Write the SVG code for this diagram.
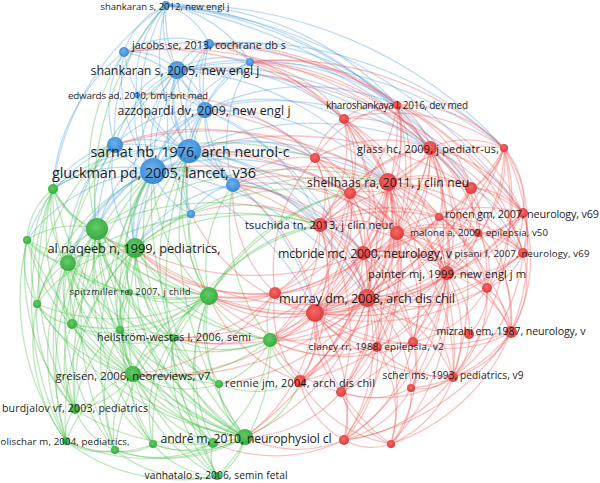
<svg xmlns="http://www.w3.org/2000/svg" width="600" height="483" viewBox="0 0 600 483">
<defs>
<radialGradient id="gb" cx="45%" cy="40%" r="60%"><stop offset="0" stop-color="#6ab2f0"/><stop offset="1" stop-color="#3a88d4"/></radialGradient>
<radialGradient id="gr" cx="45%" cy="40%" r="60%"><stop offset="0" stop-color="#f46a68"/><stop offset="1" stop-color="#de3a3a"/></radialGradient>
<radialGradient id="gg" cx="45%" cy="40%" r="60%"><stop offset="0" stop-color="#62cc62"/><stop offset="1" stop-color="#37aa42"/></radialGradient>
<style>
.e path{fill:none;stroke-width:1.3}
.eb path{stroke:#4d9de0;stroke-opacity:.36}
.er path{stroke:#ee4b4b;stroke-opacity:.34}
.eg path{stroke:#4fbf4f;stroke-opacity:.38}
.e path.w{stroke-width:2.4}
.nb{fill:url(#gb)}
.nr{fill:url(#gr)}
.ng{fill:url(#gg)}
text{font-family:"Open Sans","DejaVu Sans",sans-serif;fill:#1c1c1c;text-anchor:middle;dominant-baseline:central}
</style>
</defs>
<rect width="600" height="483" fill="#ffffff"/>
<g id="connectors">
<g class="e eb">
<path class="w" d="M153 171A50 50 0 0 1 189 151"/>
<path d="M153 171A125 125 0 0 1 177 70"/>
<path class="w" d="M153 171A96 96 0 0 1 205 110"/>
<path d="M153 171A200 200 0 0 1 166 5"/>
<path d="M153 171A167 167 0 0 1 209 44"/>
<path d="M153 171A147 147 0 0 1 124 52"/>
<path d="M153 171A97 97 0 0 1 233 185"/>
<path d="M153 171A175 175 0 0 1 250 62"/>
<path d="M153 171A93 93 0 0 1 137 95"/>
<path d="M153 171A55 55 0 0 1 115 145"/>
<path d="M115 145A89 89 0 0 1 189 151"/>
<path d="M115 145A117 117 0 0 1 177 70"/>
<path d="M115 145A116 116 0 0 1 205 110"/>
<path d="M115 145A112 112 0 0 1 124 52"/>
<path d="M115 145A179 179 0 0 1 166 5"/>
<path d="M115 145A150 150 0 0 1 233 185"/>
<path class="w" d="M189 151A98 98 0 0 1 177 70"/>
<path d="M189 151A53 53 0 0 1 205 110"/>
<path d="M189 151A177 177 0 0 1 166 5"/>
<path d="M189 151A131 131 0 0 1 209 44"/>
<path d="M189 151A129 129 0 0 1 250 62"/>
<path d="M189 151A142 142 0 0 1 124 52"/>
<path d="M189 151A67 67 0 0 1 233 185"/>
<path d="M189 151A92 92 0 0 1 137 95"/>
<path d="M191 214A69 69 0 0 1 153 171"/>
<path d="M191 214A76 76 0 0 1 189 151"/>
<path d="M191 214A126 126 0 0 1 205 110"/>
<path d="M191 214A174 174 0 0 1 177 70"/>
<path d="M191 214A61 61 0 0 1 233 185"/>
<path d="M233 185A95 95 0 0 1 205 110"/>
<path d="M233 185A156 156 0 0 1 177 70"/>
<path d="M233 185A172 172 0 0 1 209 44"/>
<path d="M233 185A149 149 0 0 1 250 62"/>
<path d="M137 95A57 57 0 0 1 177 70"/>
<path d="M137 95A84 84 0 0 1 205 110"/>
<path d="M137 95A113 113 0 0 1 166 5"/>
<path d="M124 52A67 67 0 0 1 177 70"/>
<path d="M124 52A76 76 0 0 1 166 5"/>
<path d="M124 52A102 102 0 0 1 209 44"/>
<path d="M124 52A120 120 0 0 1 205 110"/>
<path d="M177 70A79 79 0 0 1 166 5"/>
<path d="M177 70A50 50 0 0 1 209 44"/>
<path d="M177 70A88 88 0 0 1 250 62"/>
<path d="M177 70A58 58 0 0 1 205 110"/>
<path d="M205 110A134 134 0 0 1 166 5"/>
<path d="M205 110A79 79 0 0 1 209 44"/>
<path d="M205 110A79 79 0 0 1 250 62"/>
<path d="M166 5A70 70 0 0 1 209 44"/>
<path d="M209 44A54 54 0 0 1 250 62"/>
<path d="M166 5A122 122 0 0 1 250 62"/>
<path d="M97 229A97 97 0 0 1 153 171"/>
<path d="M97 229A103 103 0 0 1 115 145"/>
<path d="M97 229A145 145 0 0 1 189 151"/>
<path d="M97 229A214 214 0 0 1 177 70"/>
<path d="M97 229A193 193 0 0 1 205 110"/>
<path class="w" d="M135 248A95 95 0 0 1 153 171"/>
<path d="M135 248A133 133 0 0 1 189 151"/>
<path d="M135 248A126 126 0 0 1 115 145"/>
<path d="M135 248A219 219 0 0 1 177 70"/>
<path d="M135 248A186 186 0 0 1 205 110"/>
<path d="M135 248A140 140 0 0 1 233 185"/>
<path d="M135 248A79 79 0 0 1 191 214"/>
<path d="M53 189A122 122 0 0 1 153 171"/>
<path d="M53 189A91 91 0 0 1 115 145"/>
<path d="M53 189A185 185 0 0 1 124 52"/>
<path d="M53 189A259 259 0 0 1 166 5"/>
<path d="M53 189A169 169 0 0 1 189 151"/>
<path d="M27 240A172 172 0 0 1 153 171"/>
<path d="M27 240A155 155 0 0 1 115 145"/>
<path d="M68 263A150 150 0 0 1 153 171"/>
<path d="M68 263A198 198 0 0 1 189 151"/>
<path d="M68 263A152 152 0 0 1 115 145"/>
<path d="M189 151A242 242 0 0 1 388 182"/>
<path d="M189 151A152 152 0 0 1 315 158"/>
<path d="M189 151A181 181 0 0 1 320 225"/>
<path d="M189 151A277 277 0 0 1 367 298"/>
<path d="M189 151A242 242 0 0 1 363 253"/>
<path d="M189 151A289 289 0 0 1 430 148"/>
<path d="M189 151A246 246 0 0 1 315 313"/>
<path d="M153 171A282 282 0 0 1 388 182"/>
<path d="M153 171A211 211 0 0 1 320 225"/>
<path d="M153 171A299 299 0 0 1 367 298"/>
<path d="M153 171A259 259 0 0 1 315 313"/>
<path d="M153 171A271 271 0 0 1 363 253"/>
<path d="M153 171A238 238 0 0 1 350 193"/>
<path d="M205 110A236 236 0 0 1 388 182"/>
<path d="M205 110A168 168 0 0 1 344 119"/>
<path d="M205 110A231 231 0 0 1 397 105"/>
<path d="M205 110A274 274 0 0 1 430 148"/>
<path d="M205 110A144 144 0 0 1 315 158"/>
<path d="M205 110A195 195 0 0 1 320 225"/>
<path d="M205 110A298 298 0 0 1 367 298"/>
<path d="M177 70A287 287 0 0 1 388 182"/>
<path d="M177 70A209 209 0 0 1 344 119"/>
<path d="M177 70A318 318 0 0 1 430 148"/>
<path d="M177 70A403 403 0 0 1 504 148"/>
<path d="M177 70A267 267 0 0 1 397 105"/>
<path d="M177 70A380 380 0 0 1 471 188"/>
<path d="M166 5A302 302 0 0 1 397 105"/>
<path d="M166 5A360 360 0 0 1 430 148"/>
<path d="M166 5A440 440 0 0 1 504 148"/>
<path d="M166 5A427 427 0 0 1 471 188"/>
<path d="M166 5A496 496 0 0 1 523 213"/>
<path d="M166 5A522 522 0 0 1 523 253"/>
<path d="M209 44A237 237 0 0 1 397 105"/>
<path d="M209 44A293 293 0 0 1 430 148"/>
<path d="M209 44A375 375 0 0 1 504 148"/>
</g>
<g class="e eg">
<path d="M68 263A266 266 0 0 1 177 70"/>
<path d="M209 296A164 164 0 0 1 153 171"/>
<path d="M209 296A176 176 0 0 1 189 151"/>
<path d="M209 296A136 136 0 0 1 233 185"/>
<path d="M209 296A101 101 0 0 1 191 214"/>
<path d="M209 296A223 223 0 0 1 205 110"/>
<path d="M133 374A245 245 0 0 1 153 171"/>
<path d="M133 374A276 276 0 0 1 189 151"/>
<path d="M37 304A212 212 0 0 1 153 171"/>
<path d="M37 304A212 212 0 0 1 115 145"/>
<path d="M72 324A208 208 0 0 1 153 171"/>
<path d="M173 338A201 201 0 0 1 153 171"/>
<path d="M173 338A225 225 0 0 1 189 151"/>
<path d="M75 409A300 300 0 0 1 153 171"/>
<path d="M66 441A360 360 0 0 1 115 145"/>
<path d="M245 437A350 350 0 0 1 189 151"/>
<path d="M245 437A338 338 0 0 1 153 171"/>
<path d="M270 340A191 191 0 0 1 233 185"/>
<path d="M130 292A148 148 0 0 1 153 171"/>
<path d="M120 330A195 195 0 0 1 153 171"/>
<path d="M97 229A281 281 0 0 1 166 5"/>
<path d="M97 229A215 215 0 0 1 124 52"/>
<path d="M115 450A338 338 0 0 1 153 171"/>
<path d="M217 476A391 391 0 0 1 189 151"/>
<path d="M97 229A71 71 0 0 1 53 189"/>
<path d="M27 240A86 86 0 0 1 97 229"/>
<path class="w" d="M135 248A50 50 0 0 1 97 229"/>
<path d="M68 263A54 54 0 0 1 97 229"/>
<path d="M209 296A157 157 0 0 1 97 229"/>
<path d="M37 304A115 115 0 0 1 97 229"/>
<path d="M72 324A118 118 0 0 1 97 229"/>
<path d="M120 330A124 124 0 0 1 97 229"/>
<path d="M173 338A159 159 0 0 1 97 229"/>
<path d="M270 340A247 247 0 0 1 97 229"/>
<path d="M133 374A179 179 0 0 1 97 229"/>
<path d="M219 384A237 237 0 0 1 97 229"/>
<path d="M75 409A218 218 0 0 1 97 229"/>
<path d="M66 441A257 257 0 0 1 97 229"/>
<path d="M115 450A266 266 0 0 1 97 229"/>
<path d="M153 444A266 266 0 0 1 97 229"/>
<path d="M213 443A292 292 0 0 1 97 229"/>
<path d="M245 437A306 306 0 0 1 97 229"/>
<path d="M217 476A330 330 0 0 1 97 229"/>
<path d="M130 292A85 85 0 0 1 97 229"/>
<path d="M135 248A121 121 0 0 1 53 189"/>
<path d="M135 248A130 130 0 0 1 27 240"/>
<path d="M68 263A82 82 0 0 1 135 248"/>
<path d="M209 296A106 106 0 0 1 135 248"/>
<path d="M37 304A135 135 0 0 1 135 248"/>
<path d="M72 324A118 118 0 0 1 135 248"/>
<path d="M120 330A99 99 0 0 1 135 248"/>
<path d="M173 338A117 117 0 0 1 135 248"/>
<path d="M270 340A196 196 0 0 1 135 248"/>
<path d="M133 374A151 151 0 0 1 135 248"/>
<path d="M219 384A192 192 0 0 1 135 248"/>
<path d="M75 409A206 206 0 0 1 135 248"/>
<path d="M66 441A246 246 0 0 1 135 248"/>
<path d="M153 444A236 236 0 0 1 135 248"/>
<path d="M213 443A252 252 0 0 1 135 248"/>
<path d="M245 437A262 262 0 0 1 135 248"/>
<path d="M130 292A53 53 0 0 1 135 248"/>
<path d="M68 263A91 91 0 0 1 53 189"/>
<path d="M68 263A56 56 0 0 1 27 240"/>
<path d="M37 304A62 62 0 0 1 68 263"/>
<path d="M72 324A73 73 0 0 1 68 263"/>
<path d="M120 330A102 102 0 0 1 68 263"/>
<path d="M173 338A155 155 0 0 1 68 263"/>
<path d="M133 374A154 154 0 0 1 68 263"/>
<path d="M75 409A175 175 0 0 1 68 263"/>
<path d="M66 441A214 214 0 0 1 68 263"/>
<path d="M209 296A174 174 0 0 1 68 263"/>
<path d="M115 450A231 231 0 0 1 68 263"/>
<path d="M130 292A82 82 0 0 1 68 263"/>
<path d="M153 444A240 240 0 0 1 68 263"/>
<path d="M245 437A175 175 0 0 1 209 296"/>
<path d="M270 340A90 90 0 0 1 209 296"/>
<path d="M217 476A216 216 0 0 1 209 296"/>
<path d="M213 443A177 177 0 0 1 209 296"/>
<path d="M219 384A107 107 0 0 1 209 296"/>
<path d="M153 444A190 190 0 0 1 209 296"/>
<path d="M115 450A216 216 0 0 1 209 296"/>
<path d="M133 374A131 131 0 0 1 209 296"/>
<path d="M173 338A66 66 0 0 1 209 296"/>
<path d="M209 296A114 114 0 0 1 120 330"/>
<path d="M209 296A168 168 0 0 1 72 324"/>
<path d="M209 296A95 95 0 0 1 130 292"/>
<path d="M209 296A207 207 0 0 1 37 304"/>
<path d="M209 296A229 229 0 0 1 27 240"/>
<path d="M209 296A227 227 0 0 1 53 189"/>
<path d="M245 437A154 154 0 0 1 133 374"/>
<path d="M270 340A169 169 0 0 1 133 374"/>
<path d="M217 476A159 159 0 0 1 133 374"/>
<path d="M213 443A127 127 0 0 1 133 374"/>
<path d="M219 384A104 104 0 0 1 133 374"/>
<path d="M153 444A87 87 0 0 1 133 374"/>
<path d="M115 450A94 94 0 0 1 133 374"/>
<path d="M66 441A114 114 0 0 1 133 374"/>
<path d="M133 374A81 81 0 0 1 75 409"/>
<path d="M133 374A65 65 0 0 1 173 338"/>
<path d="M133 374A54 54 0 0 1 120 330"/>
<path d="M133 374A95 95 0 0 1 72 324"/>
<path d="M133 374A143 143 0 0 1 37 304"/>
<path d="M133 374A99 99 0 0 1 130 292"/>
<path d="M133 374A205 205 0 0 1 27 240"/>
<path d="M133 374A242 242 0 0 1 53 189"/>
<path d="M245 437A58 58 0 0 1 217 476"/>
<path d="M245 437A40 40 0 0 1 213 443"/>
<path d="M245 437A71 71 0 0 1 219 384"/>
<path d="M245 437A111 111 0 0 1 153 444"/>
<path d="M245 437A157 157 0 0 1 115 450"/>
<path d="M245 437A215 215 0 0 1 66 441"/>
<path d="M245 437A207 207 0 0 1 75 409"/>
<path d="M245 437A147 147 0 0 1 173 338"/>
<path d="M245 437A197 197 0 0 1 120 330"/>
<path d="M245 437A248 248 0 0 1 72 324"/>
<path d="M245 437A296 296 0 0 1 37 304"/>
<path d="M245 437A376 376 0 0 1 53 189"/>
<path d="M245 437A353 353 0 0 1 27 240"/>
<path d="M245 437A222 222 0 0 1 130 292"/>
<path d="M245 437A298 298 0 0 1 68 263"/>
<path d="M27 240A69 69 0 0 1 53 189"/>
<path d="M37 304A78 78 0 0 1 27 240"/>
<path d="M37 304A139 139 0 0 1 53 189"/>
<path d="M72 324A164 164 0 0 1 53 189"/>
<path d="M75 409A265 265 0 0 1 53 189"/>
<path d="M66 441A303 303 0 0 1 53 189"/>
<path d="M66 441A246 246 0 0 1 27 240"/>
<path d="M75 409A211 211 0 0 1 27 240"/>
<path d="M75 409A134 134 0 0 1 37 304"/>
<path d="M66 441A168 168 0 0 1 37 304"/>
<path d="M66 441A40 40 0 0 1 75 409"/>
<path d="M115 450A69 69 0 0 1 75 409"/>
<path d="M115 450A60 60 0 0 1 66 441"/>
<path d="M153 444A46 46 0 0 1 115 450"/>
<path d="M153 444A105 105 0 0 1 66 441"/>
<path d="M213 443A72 72 0 0 1 153 444"/>
<path d="M213 443A118 118 0 0 1 115 450"/>
<path d="M217 476A86 86 0 0 1 153 444"/>
<path d="M217 476A126 126 0 0 1 115 450"/>
<path d="M217 476A186 186 0 0 1 66 441"/>
<path d="M217 476A40 40 0 0 1 213 443"/>
<path d="M219 384A78 78 0 0 1 173 338"/>
<path d="M219 384A135 135 0 0 1 120 330"/>
<path d="M270 340A81 81 0 0 1 219 384"/>
<path d="M270 340A117 117 0 0 1 173 338"/>
<path d="M270 340A180 180 0 0 1 120 330"/>
<path d="M173 338A65 65 0 0 1 120 330"/>
<path d="M173 338A122 122 0 0 1 72 324"/>
<path d="M120 330A58 58 0 0 1 72 324"/>
<path d="M72 324A48 48 0 0 1 37 304"/>
<path d="M120 330A47 47 0 0 1 130 292"/>
<path d="M173 338A76 76 0 0 1 130 292"/>
<path d="M75 409A102 102 0 0 1 72 324"/>
<path d="M75 409A109 109 0 0 1 120 330"/>
<path d="M115 450A144 144 0 0 1 120 330"/>
<path d="M153 444A130 130 0 0 1 173 338"/>
<path d="M213 443A135 135 0 0 1 173 338"/>
<path d="M217 476A174 174 0 0 1 173 338"/>
<path d="M270 340A175 175 0 0 1 217 476"/>
<path d="M270 340A141 141 0 0 1 213 443"/>
<path d="M135 248A224 224 0 0 1 320 225"/>
<path d="M97 229A268 268 0 0 1 320 225"/>
<path d="M97 229A354 354 0 0 1 388 182"/>
<path d="M135 248A314 314 0 0 1 388 182"/>
<path d="M135 248A266 266 0 0 1 350 193"/>
<path d="M209 296A158 158 0 0 1 320 225"/>
<path d="M209 296A210 210 0 0 1 350 193"/>
<path d="M209 296A255 255 0 0 1 388 182"/>
<path d="M173 338A222 222 0 0 1 320 225"/>
<path d="M68 263A306 306 0 0 1 320 225"/>
<path d="M53 189A317 317 0 0 1 315 158"/>
<path d="M270 340A57 57 0 0 1 275 293"/>
<path d="M300 381A61 61 0 0 1 270 340"/>
<path d="M300 381A94 94 0 0 1 245 437"/>
<path d="M300 381A97 97 0 0 1 219 384"/>
</g>
<g class="e er">
<path d="M209 44A271 271 0 0 1 388 182"/>
<path d="M209 44A428 428 0 0 1 523 213"/>
<path d="M250 62A184 184 0 0 1 397 105"/>
<path d="M250 62A132 132 0 0 1 344 119"/>
<path d="M250 62A239 239 0 0 1 430 148"/>
<path d="M250 62A322 322 0 0 1 504 148"/>
<path d="M250 62A305 305 0 0 1 471 188"/>
<path d="M250 62A219 219 0 0 1 388 182"/>
<path d="M233 185A186 186 0 0 1 388 182"/>
<path d="M233 185A115 115 0 0 1 320 225"/>
<path d="M233 185A141 141 0 0 1 350 193"/>
<path d="M233 185A104 104 0 0 1 315 158"/>
<path d="M233 185A176 176 0 0 1 363 253"/>
<path d="M233 185A210 210 0 0 1 367 298"/>
<path d="M233 185A182 182 0 0 1 315 313"/>
<path d="M233 185A205 205 0 0 1 397 233"/>
<path d="M275 293A139 139 0 0 1 233 185"/>
<path d="M191 214A156 156 0 0 1 320 225"/>
<path d="M315 313A190 190 0 0 1 191 214"/>
<path d="M115 145A240 240 0 0 1 315 158"/>
<path d="M115 145A331 331 0 0 1 388 182"/>
<path d="M124 52A276 276 0 0 1 344 119"/>
<path d="M124 52A334 334 0 0 1 397 105"/>
<path d="M124 52A385 385 0 0 1 430 148"/>
<path d="M137 95A227 227 0 0 1 315 158"/>
<path d="M189 151A268 268 0 0 1 397 233"/>
<path d="M189 151A342 342 0 0 1 447 273"/>
<path d="M153 171A302 302 0 0 1 397 233"/>
<path d="M205 110A274 274 0 0 1 397 233"/>
<path d="M189 151A341 341 0 0 1 471 188"/>
<path d="M177 70A449 449 0 0 1 523 213"/>
<path d="M367 298A190 190 0 0 1 209 296"/>
<path d="M367 298A127 127 0 0 1 270 340"/>
<path d="M367 298A285 285 0 0 1 135 248"/>
<path d="M367 298A222 222 0 0 1 245 437"/>
<path d="M315 313A129 129 0 0 1 209 296"/>
<path d="M315 313A63 63 0 0 1 270 340"/>
<path d="M315 313A171 171 0 0 1 245 437"/>
<path d="M315 313A230 230 0 0 1 133 374"/>
<path d="M315 313A230 230 0 0 1 135 248"/>
<path d="M315 313A173 173 0 0 1 173 338"/>
<path d="M275 293A79 79 0 0 1 209 296"/>
<path d="M275 293A176 176 0 0 1 135 248"/>
<path d="M275 293A227 227 0 0 1 97 229"/>
<path d="M275 293A134 134 0 0 1 173 338"/>
<path d="M275 293A196 196 0 0 1 133 374"/>
<path d="M363 253A192 192 0 0 1 209 296"/>
<path d="M363 253A274 274 0 0 1 135 248"/>
<path d="M363 253A153 153 0 0 1 270 340"/>
<path d="M300 381A149 149 0 0 1 209 296"/>
<path d="M341 392A127 127 0 0 1 245 437"/>
<path d="M341 392A105 105 0 0 1 270 340"/>
<path d="M344 440A119 119 0 0 1 245 437"/>
<path d="M344 440A157 157 0 0 1 213 443"/>
<path d="M377 347A129 129 0 0 1 270 340"/>
<path d="M377 347A211 211 0 0 1 209 296"/>
<path d="M413 342A172 172 0 0 1 270 340"/>
<path d="M447 273A287 287 0 0 1 209 296"/>
<path d="M447 273A227 227 0 0 1 270 340"/>
<path d="M397 233A238 238 0 0 1 209 296"/>
<path d="M367 298A295 295 0 0 1 133 374"/>
<path d="M367 298A205 205 0 0 1 219 384"/>
<path d="M367 298A238 238 0 0 1 173 338"/>
<path d="M363 253A250 250 0 0 1 173 338"/>
<path d="M320 225A151 151 0 0 1 270 340"/>
<path d="M350 193A201 201 0 0 1 270 340"/>
<path d="M388 182A237 237 0 0 1 270 340"/>
<path d="M388 182A351 351 0 0 1 245 437"/>
<path d="M315 158A92 92 0 0 1 388 182"/>
<path d="M344 119A92 92 0 0 1 388 182"/>
<path d="M397 105A94 94 0 0 1 388 182"/>
<path d="M320 225A96 96 0 0 1 388 182"/>
<path d="M350 193A47 47 0 0 1 388 182"/>
<path class="w" d="M430 148A65 65 0 0 1 388 182"/>
<path d="M388 182A145 145 0 0 1 504 148"/>
<path d="M388 182A100 100 0 0 1 471 188"/>
<path d="M388 182A76 76 0 0 1 439 217"/>
<path d="M388 182A61 61 0 0 1 397 233"/>
<path d="M388 182A164 164 0 0 1 523 213"/>
<path d="M388 182A124 124 0 0 1 478 233"/>
<path d="M388 182A183 183 0 0 1 523 253"/>
<path d="M388 182A90 90 0 0 1 363 253"/>
<path d="M388 182A130 130 0 0 1 447 273"/>
<path d="M388 182A174 174 0 0 1 487 288"/>
<path d="M388 182A233 233 0 0 1 511 332"/>
<path class="w" d="M388 182A142 142 0 0 1 367 298"/>
<path d="M388 182A193 193 0 0 1 413 342"/>
<path d="M388 182A247 247 0 0 1 453 377"/>
<path d="M388 182A198 198 0 0 1 377 347"/>
<path d="M388 182A258 258 0 0 1 341 392"/>
<path d="M388 182A180 180 0 0 1 315 313"/>
<path d="M388 182A261 261 0 0 1 300 381"/>
<path d="M388 182A314 314 0 0 1 344 440"/>
<path d="M388 182A190 190 0 0 1 275 293"/>
<path d="M315 158A179 179 0 0 1 367 298"/>
<path d="M344 119A216 216 0 0 1 367 298"/>
<path d="M397 105A234 234 0 0 1 367 298"/>
<path d="M320 225A104 104 0 0 1 367 298"/>
<path d="M350 193A128 128 0 0 1 367 298"/>
<path d="M430 148A195 195 0 0 1 367 298"/>
<path d="M504 148A244 244 0 0 1 367 298"/>
<path d="M471 188A182 182 0 0 1 367 298"/>
<path d="M439 217A130 130 0 0 1 367 298"/>
<path d="M397 233A86 86 0 0 1 367 298"/>
<path d="M523 213A213 213 0 0 1 367 298"/>
<path d="M478 233A154 154 0 0 1 367 298"/>
<path d="M523 253A195 195 0 0 1 367 298"/>
<path class="w" d="M363 253A54 54 0 0 1 367 298"/>
<path d="M447 273A101 101 0 0 1 367 298"/>
<path d="M487 288A145 145 0 0 1 367 298"/>
<path d="M511 332A178 178 0 0 1 367 298"/>
<path d="M367 298A76 76 0 0 1 413 342"/>
<path d="M367 298A140 140 0 0 1 453 377"/>
<path d="M367 298A120 120 0 0 1 411 388"/>
<path d="M367 298A59 59 0 0 1 377 347"/>
<path d="M367 298A117 117 0 0 1 341 392"/>
<path class="w" d="M367 298A65 65 0 0 1 315 313"/>
<path d="M367 298A172 172 0 0 1 344 440"/>
<path d="M367 298A128 128 0 0 1 300 381"/>
<path d="M367 298A112 112 0 0 1 275 293"/>
<path d="M367 298A178 178 0 0 1 391 444"/>
<path d="M315 158A186 186 0 0 1 315 313"/>
<path d="M344 119A235 235 0 0 1 315 313"/>
<path d="M397 105A268 268 0 0 1 315 313"/>
<path d="M320 225A106 106 0 0 1 315 313"/>
<path d="M350 193A150 150 0 0 1 315 313"/>
<path d="M430 148A241 241 0 0 1 315 313"/>
<path d="M504 148A301 301 0 0 1 315 313"/>
<path d="M471 188A240 240 0 0 1 315 313"/>
<path d="M397 233A137 137 0 0 1 315 313"/>
<path d="M523 213A277 277 0 0 1 315 313"/>
<path d="M523 253A260 260 0 0 1 315 313"/>
<path d="M363 253A92 92 0 0 1 315 313"/>
<path d="M447 273A166 166 0 0 1 315 313"/>
<path d="M487 288A209 209 0 0 1 315 313"/>
<path d="M511 332A236 236 0 0 1 315 313"/>
<path d="M413 342A123 123 0 0 1 315 313"/>
<path d="M453 377A182 182 0 0 1 315 313"/>
<path d="M377 347A85 85 0 0 1 315 313"/>
<path d="M315 313A84 84 0 0 1 300 381"/>
<path d="M315 313A54 54 0 0 1 275 293"/>
<path d="M341 392A100 100 0 0 1 315 313"/>
<path d="M315 313A156 156 0 0 1 344 440"/>
<path d="M391 444A182 182 0 0 1 315 313"/>
<path d="M315 158A128 128 0 0 1 363 253"/>
<path d="M344 119A162 162 0 0 1 363 253"/>
<path d="M397 105A182 182 0 0 1 363 253"/>
<path d="M320 225A62 62 0 0 1 363 253"/>
<path d="M350 193A74 74 0 0 1 363 253"/>
<path d="M430 148A150 150 0 0 1 363 253"/>
<path d="M504 148A211 211 0 0 1 363 253"/>
<path d="M471 188A151 151 0 0 1 363 253"/>
<path d="M439 217A101 101 0 0 1 363 253"/>
<path d="M397 233A47 47 0 0 1 363 253"/>
<path d="M523 213A198 198 0 0 1 363 253"/>
<path d="M478 233A140 140 0 0 1 363 253"/>
<path d="M363 253A104 104 0 0 1 447 273"/>
<path d="M363 253A155 155 0 0 1 487 288"/>
<path d="M363 253A122 122 0 0 1 413 342"/>
<path d="M363 253A184 184 0 0 1 453 377"/>
<path d="M363 253A169 169 0 0 1 341 392"/>
<path d="M363 253A171 171 0 0 1 300 381"/>
<path d="M363 253A116 116 0 0 1 275 293"/>
<path d="M363 253A114 114 0 0 1 377 347"/>
<path d="M315 158A139 139 0 0 1 430 148"/>
<path d="M344 119A109 109 0 0 1 430 148"/>
<path d="M397 105A65 65 0 0 1 430 148"/>
<path d="M320 225A161 161 0 0 1 430 148"/>
<path d="M350 193A110 110 0 0 1 430 148"/>
<path d="M430 148A89 89 0 0 1 504 148"/>
<path d="M430 148A69 69 0 0 1 471 188"/>
<path d="M430 148A84 84 0 0 1 439 217"/>
<path d="M430 148A109 109 0 0 1 397 233"/>
<path d="M430 148A136 136 0 0 1 523 213"/>
<path d="M430 148A117 117 0 0 1 478 233"/>
<path d="M430 148A168 168 0 0 1 523 253"/>
<path d="M430 148A151 151 0 0 1 447 273"/>
<path d="M430 148A181 181 0 0 1 487 288"/>
<path d="M430 148A241 241 0 0 1 511 332"/>
<path d="M430 148A234 234 0 0 1 413 342"/>
<path d="M430 148A276 276 0 0 1 453 377"/>
<path d="M430 148A289 289 0 0 1 411 388"/>
<path d="M315 158A210 210 0 0 1 447 273"/>
<path d="M344 119A222 222 0 0 1 447 273"/>
<path d="M397 105A210 210 0 0 1 447 273"/>
<path d="M320 225A163 163 0 0 1 447 273"/>
<path d="M350 193A151 151 0 0 1 447 273"/>
<path d="M504 148A165 165 0 0 1 447 273"/>
<path d="M471 188A106 106 0 0 1 447 273"/>
<path d="M439 217A68 68 0 0 1 447 273"/>
<path d="M397 233A77 77 0 0 1 447 273"/>
<path d="M523 213A116 116 0 0 1 447 273"/>
<path d="M478 233A61 61 0 0 1 447 273"/>
<path d="M523 253A94 94 0 0 1 447 273"/>
<path d="M447 273A51 51 0 0 1 487 288"/>
<path d="M447 273A104 104 0 0 1 511 332"/>
<path d="M447 273A77 77 0 0 1 469 334"/>
<path d="M447 273A92 92 0 0 1 413 342"/>
<path d="M447 273A126 126 0 0 1 453 377"/>
<path d="M447 273A145 145 0 0 1 411 388"/>
<path d="M447 273A122 122 0 0 1 377 347"/>
<path d="M447 273A191 191 0 0 1 341 392"/>
<path d="M447 273A219 219 0 0 1 300 381"/>
<path d="M447 273A216 216 0 0 1 391 444"/>
<path d="M447 273A235 235 0 0 1 344 440"/>
<path d="M315 158A80 80 0 0 1 320 225"/>
<path d="M344 119A130 130 0 0 1 320 225"/>
<path d="M397 105A171 171 0 0 1 320 225"/>
<path d="M320 225A53 53 0 0 1 350 193"/>
<path d="M320 225A93 93 0 0 1 397 233"/>
<path d="M320 225A187 187 0 0 1 471 188"/>
<path d="M320 225A143 143 0 0 1 439 217"/>
<path d="M320 225A190 190 0 0 1 478 233"/>
<path d="M320 225A179 179 0 0 1 413 342"/>
<path d="M320 225A162 162 0 0 1 377 347"/>
<path d="M320 225A202 202 0 0 1 341 392"/>
<path d="M320 225A189 189 0 0 1 300 381"/>
<path d="M320 225A98 98 0 0 1 275 293"/>
<path d="M315 158A133 133 0 0 1 397 233"/>
<path d="M344 119A151 151 0 0 1 397 233"/>
<path d="M397 105A154 154 0 0 1 397 233"/>
<path d="M350 193A74 74 0 0 1 397 233"/>
<path d="M397 233A153 153 0 0 1 523 213"/>
<path d="M397 233A97 97 0 0 1 478 233"/>
<path d="M397 233A153 153 0 0 1 523 253"/>
<path d="M397 233A127 127 0 0 1 487 288"/>
<path d="M397 233A181 181 0 0 1 511 332"/>
<path d="M397 233A132 132 0 0 1 413 342"/>
<path d="M397 233A139 139 0 0 1 377 347"/>
<path d="M397 233A185 185 0 0 1 453 377"/>
<path d="M397 233A202 202 0 0 1 341 392"/>
<path d="M397 233A212 212 0 0 1 300 381"/>
<path d="M504 148A81 81 0 0 1 523 213"/>
<path d="M504 148A62 62 0 0 1 471 188"/>
<path d="M504 148A128 128 0 0 1 523 253"/>
<path d="M504 148A221 221 0 0 1 511 332"/>
<path d="M504 148A169 169 0 0 1 487 288"/>
<path d="M504 148A282 282 0 0 1 453 377"/>
<path d="M397 105A138 138 0 0 1 504 148"/>
<path d="M344 119A195 195 0 0 1 504 148"/>
<path d="M397 105A133 133 0 0 1 471 188"/>
<path d="M344 119A66 66 0 0 1 397 105"/>
<path d="M315 158A58 58 0 0 1 344 119"/>
<path d="M315 158A117 117 0 0 1 397 105"/>
<path d="M397 105A199 199 0 0 1 523 213"/>
<path d="M397 105A233 233 0 0 1 523 253"/>
<path d="M523 213A48 48 0 0 1 523 253"/>
<path d="M523 213A144 144 0 0 1 511 332"/>
<path d="M523 213A100 100 0 0 1 487 288"/>
<path d="M523 213A59 59 0 0 1 478 233"/>
<path d="M471 188A69 69 0 0 1 523 213"/>
<path d="M471 188A54 54 0 0 1 478 233"/>
<path d="M471 188A100 100 0 0 1 523 253"/>
<path d="M523 253A96 96 0 0 1 511 332"/>
<path d="M523 253A60 60 0 0 1 487 288"/>
<path d="M478 233A125 125 0 0 1 511 332"/>
<path d="M523 253A171 171 0 0 1 453 377"/>
<path d="M487 288A60 60 0 0 1 511 332"/>
<path d="M511 332A88 88 0 0 1 453 377"/>
<path d="M511 332A138 138 0 0 1 411 388"/>
<path d="M511 332A197 197 0 0 1 391 444"/>
<path d="M511 332A239 239 0 0 1 344 440"/>
<path d="M469 334A55 55 0 0 1 453 377"/>
<path d="M511 332A118 118 0 0 1 413 342"/>
<path d="M453 377A52 52 0 0 1 411 388"/>
<path d="M453 377A110 110 0 0 1 391 444"/>
<path d="M453 377A151 151 0 0 1 344 440"/>
<path d="M453 377A136 136 0 0 1 341 392"/>
<path d="M453 377A98 98 0 0 1 377 347"/>
<path d="M413 342A55 55 0 0 1 411 388"/>
<path d="M413 342A44 44 0 0 1 377 347"/>
<path d="M411 388A71 71 0 0 1 391 444"/>
<path d="M411 388A102 102 0 0 1 344 440"/>
<path d="M411 388A84 84 0 0 1 341 392"/>
<path d="M377 347A69 69 0 0 1 341 392"/>
<path d="M377 347A118 118 0 0 1 344 440"/>
<path d="M341 392A58 58 0 0 1 344 440"/>
<path d="M344 440A88 88 0 0 1 300 381"/>
<path d="M391 444A56 56 0 0 1 344 440"/>
<path d="M391 444A133 133 0 0 1 300 381"/>
<path d="M391 444A86 86 0 0 1 341 392"/>
<path d="M300 381A110 110 0 0 1 275 293"/>
<path d="M413 342A125 125 0 0 1 391 444"/>
<path d="M413 342A144 144 0 0 1 344 440"/>
<path d="M377 347A118 118 0 0 1 391 444"/>
<path d="M315 158A59 59 0 0 1 350 193"/>
<path d="M344 119A89 89 0 0 1 350 193"/>
<path d="M350 193A110 110 0 0 1 439 217"/>
<path d="M350 193A150 150 0 0 1 275 293"/>
<path d="M275 293A169 169 0 0 1 315 158"/>
<path d="M439 217A51 51 0 0 1 478 233"/>
<path d="M439 217A50 50 0 0 1 397 233"/>
<path d="M439 217A103 103 0 0 1 487 288"/>
<path d="M439 217A110 110 0 0 1 523 253"/>
<path d="M478 233A59 59 0 0 1 523 253"/>
<path d="M478 233A67 67 0 0 1 487 288"/>
<path d="M487 288A114 114 0 0 1 453 377"/>
<path d="M487 288A59 59 0 0 1 469 334"/>
<path d="M487 288A110 110 0 0 1 413 342"/>
<path d="M504 148A107 107 0 0 1 478 233"/>
</g>
</g>
<g id="nodes">
<g id="n-b3"><circle class="nb" cx="124" cy="52" r="5"/></g>
<g id="n-b4"><circle class="nb" cx="250" cy="62" r="4"/></g>
<g id="n-b8"><circle class="nb" cx="115" cy="145" r="8"/></g>
<g id="n-b11"><circle class="nb" cx="233" cy="185" r="7"/></g>
<g id="n-b12"><circle class="nb" cx="191" cy="214" r="4"/></g>
<g id="n-g1"><circle class="ng" cx="53" cy="189" r="5"/></g>
<g id="n-g2"><circle class="ng" cx="97" cy="229" r="11"/></g>
<g id="n-g3"><circle class="ng" cx="27" cy="240" r="4"/></g>
<g id="n-g5"><circle class="ng" cx="68" cy="263" r="8"/></g>
<g id="n-g6"><circle class="ng" cx="209" cy="296" r="9"/></g>
<g id="n-g7"><circle class="ng" cx="37" cy="304" r="4"/></g>
<g id="n-g8"><circle class="ng" cx="72" cy="324" r="5"/></g>
<g id="n-g9"><circle class="ng" cx="120" cy="330" r="4"/></g>
<g id="n-g11"><circle class="ng" cx="270" cy="340" r="7"/></g>
<g id="n-g13"><circle class="ng" cx="219" cy="384" r="4"/></g>
<g id="n-g16"><circle class="ng" cx="115" cy="450" r="4"/></g>
<g id="n-g17"><circle class="ng" cx="153" cy="444" r="4"/></g>
<g id="n-g18"><circle class="ng" cx="213" cy="443" r="5"/></g>
<g id="n-r2"><circle class="nr" cx="344" cy="119" r="5"/></g>
<g id="n-r4"><circle class="nr" cx="504" cy="148" r="4"/></g>
<g id="n-r5"><circle class="nr" cx="315" cy="158" r="5"/></g>
<g id="n-r7"><circle class="nr" cx="350" cy="193" r="6"/></g>
<g id="n-r8"><circle class="nr" cx="471" cy="188" r="6"/></g>
<g id="n-r9"><circle class="nr" cx="439" cy="217" r="4"/></g>
<g id="n-r12"><circle class="nr" cx="397" cy="233" r="7"/></g>
<g id="n-r19"><circle class="nr" cx="487" cy="288" r="5"/></g>
<g id="n-r21"><circle class="nr" cx="315" cy="313" r="9"/></g>
<g id="n-r22"><circle class="nr" cx="275" cy="293" r="6"/></g>
<g id="n-r24"><circle class="nr" cx="413" cy="342" r="5"/></g>
<g id="n-r26a"><circle class="nr" cx="469" cy="334" r="5"/></g>
<g id="n-r28"><circle class="nr" cx="411" cy="388" r="4"/></g>
<g id="n-r29"><circle class="nr" cx="341" cy="392" r="5"/></g>
<g id="n-r31"><circle class="nr" cx="344" cy="440" r="5"/></g>
<g id="n-r32"><circle class="nr" cx="391" cy="444" r="4"/></g>
<g id="n-shankaran2012"><circle class="nb" cx="166" cy="5" r="4"/><text x="165" y="6" font-size="9.5" textLength="129">shankaran s, 2012, new engl j</text></g>
<g id="n-jacobs"><circle class="nb" cx="209" cy="44" r="5"/><text x="209" y="44" font-size="10.8" textLength="154">jacobs se, 2013, cochrane db s</text></g>
<g id="n-shankaran2005"><circle class="nb" cx="177" cy="70" r="9"/><text x="175" y="70" font-size="12.5" textLength="169">shankaran s, 2005, new engl j</text></g>
<g id="n-edwards"><circle class="nb" cx="137" cy="95" r="3"/><text x="138" y="95" font-size="9.8" textLength="140">edwards ad, 2010, bmj-brit med</text></g>
<g id="n-azzopardi"><circle class="nb" cx="205" cy="110" r="8"/><text x="204" y="110" font-size="12.3" textLength="173">azzopardi dv, 2009, new engl j</text></g>
<g id="n-sarnat"><circle class="nb" cx="189" cy="151" r="12"/><text x="190" y="151" font-size="14.3" textLength="199">sarnat hb, 1976, arch neurol-c</text></g>
<g id="n-gluckman"><circle class="nb" cx="153" cy="171" r="13"/><text x="154" y="172" font-size="14.5" textLength="204">gluckman pd, 2005, lancet, v36</text></g>
<g id="n-alnaqeeb"><circle class="ng" cx="135" cy="248" r="10"/><text x="134" y="248" font-size="12.8" textLength="173">al naqeeb n, 1999, pediatrics,</text></g>
<g id="n-spitzmiller"><circle class="ng" cx="130" cy="292" r="3"/><text x="130" y="291" font-size="9" textLength="121">spitzmiller re, 2007, j child</text></g>
<g id="n-hellstrom"><circle class="ng" cx="173" cy="338" r="4"/><text x="174" y="337" font-size="10.6" textLength="154">hellström-westas l, 2006, semi</text></g>
<g id="n-greisen"><circle class="ng" cx="133" cy="374" r="8"/><text x="133" y="375" font-size="11.3" textLength="155">greisen, 2006, neoreviews, v7</text></g>
<g id="n-burdjalov"><circle class="ng" cx="75" cy="409" r="5"/><text x="75" y="408" font-size="10.5" textLength="146">burdjalov vf, 2003, pediatrics</text></g>
<g id="n-olischar"><circle class="ng" cx="66" cy="441" r="4"/><text x="65" y="441" font-size="9.7" textLength="129">olischar m, 2004, pediatrics,</text></g>
<g id="n-andre"><circle class="ng" cx="245" cy="437" r="8"/><text x="246" y="438" font-size="12.2" textLength="171">andré m, 2010, neurophysiol cl</text></g>
<g id="n-vanhatalo"><circle class="ng" cx="217" cy="476" r="4"/><text x="216" y="475" font-size="10.2" textLength="143">vanhatalo s, 2006, semin fetal</text></g>
<g id="n-kharoshankaya"><circle class="nr" cx="397" cy="105" r="4"/><text x="397" y="105" font-size="10" textLength="142">kharoshankaya l, 2016, dev med</text></g>
<g id="n-glass"><circle class="nr" cx="430" cy="148" r="7"/><text x="428" y="148" font-size="10.8" textLength="142">glass hc, 2009, j pediatr-us,</text></g>
<g id="n-shellhaas"><circle class="nr" cx="388" cy="182" r="9"/><text x="388" y="182" font-size="12" textLength="162">shellhaas ra, 2011, j clin neu</text></g>
<g id="n-tsuchida"><circle class="nr" cx="320" cy="225" r="7"/><text x="319" y="224" font-size="11" textLength="148">tsuchida tn, 2013, j clin neur</text></g>
<g id="n-ronen"><circle class="nr" cx="523" cy="213" r="5"/><text x="522" y="213" font-size="10.8" textLength="154">ronen gm, 2007, neurology, v69</text></g>
<g id="n-malone"><circle class="nr" cx="478" cy="233" r="4"/><text x="479" y="232" font-size="9.7" textLength="138">malone a, 2009, epilepsia, v50</text></g>
<g id="n-mcbride"><circle class="nr" cx="363" cy="253" r="7"/><text x="365" y="253" font-size="12.3" textLength="174">mcbride mc, 2000, neurology, v</text></g>
<g id="n-pisani"><circle class="nr" cx="523" cy="253" r="5"/><text x="522" y="253" font-size="9.6" textLength="135">pisani f, 2007, neurology, v69</text></g>
<g id="n-painter"><circle class="nr" cx="447" cy="273" r="7"/><text x="447" y="273" font-size="11.2" textLength="158">painter mj, 1999, new engl j m</text></g>
<g id="n-murray"><circle class="nr" cx="367" cy="298" r="9"/><text x="367" y="298" font-size="12.8" textLength="176">murray dm, 2008, arch dis chil</text></g>
<g id="n-mizrahi"><circle class="nr" cx="511" cy="332" r="6"/><text x="511" y="331" font-size="10.6" textLength="149">mizrahi em, 1987, neurology, v</text></g>
<g id="n-clancy"><circle class="nr" cx="377" cy="347" r="5"/><text x="376" y="346" font-size="9.8" textLength="135">clancy rr, 1988, epilepsia, v2</text></g>
<g id="n-scher"><circle class="nr" cx="453" cy="377" r="5"/><text x="453" y="375" font-size="10.1" textLength="141">scher ms, 1993, pediatrics, v9</text></g>
<g id="n-rennie"><circle class="nr" cx="300" cy="381" r="6"/><text x="300" y="382" font-size="10.8" textLength="150">rennie jm, 2004, arch dis chil</text></g>
</g>
</svg>
